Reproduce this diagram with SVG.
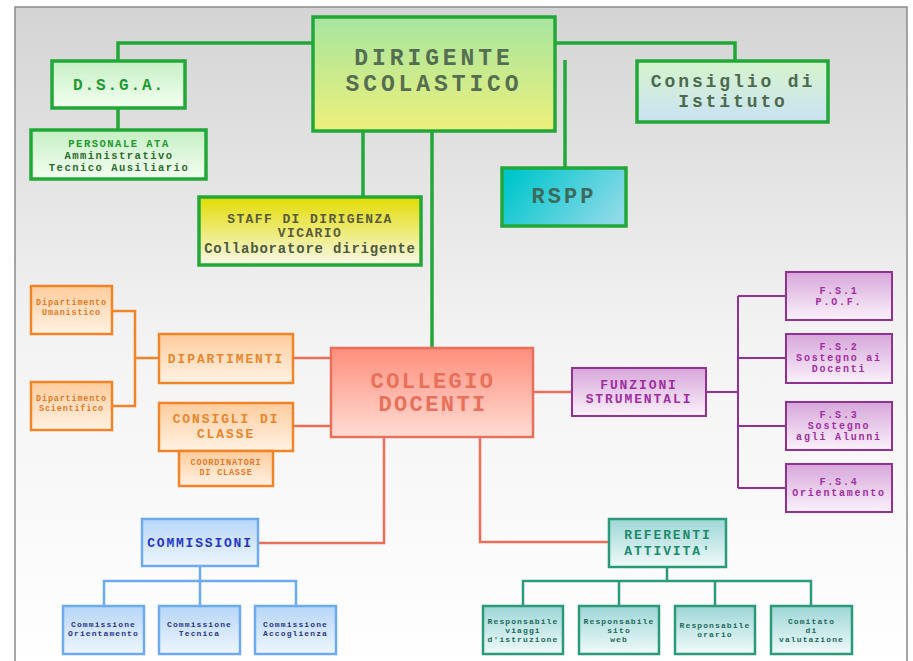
<svg xmlns="http://www.w3.org/2000/svg" width="913" height="661" viewBox="0 0 913 661">
<defs>
<linearGradient id="bg" x1="0" y1="0" x2="0" y2="1"><stop offset="0" stop-color="#d4d4d4"/><stop offset="0.5" stop-color="#f3f3f3"/><stop offset="1" stop-color="#ffffff"/></linearGradient>
<linearGradient id="gDir" x1="0" y1="0" x2="0" y2="1"><stop offset="0" stop-color="#a6e5a0"/><stop offset="1" stop-color="#eef07a"/></linearGradient>
<linearGradient id="gLG" x1="0" y1="0" x2="0" y2="1"><stop offset="0" stop-color="#c6efc4"/><stop offset="1" stop-color="#f4fff2"/></linearGradient>
<linearGradient id="gCons" x1="0" y1="0" x2="0" y2="1"><stop offset="0" stop-color="#d6f4cc"/><stop offset="1" stop-color="#cae2f4"/></linearGradient>
<linearGradient id="gRspp" x1="0" y1="0.3" x2="1" y2="0.7"><stop offset="0" stop-color="#00c6cc"/><stop offset="1" stop-color="#8edae8"/></linearGradient>
<linearGradient id="gStaff" x1="0" y1="0" x2="0" y2="1"><stop offset="0" stop-color="#e2dc00"/><stop offset="1" stop-color="#f8f8ea"/></linearGradient>
<linearGradient id="gOr" x1="0" y1="0" x2="0" y2="1"><stop offset="0" stop-color="#ffcc9c"/><stop offset="1" stop-color="#fff2e4"/></linearGradient>
<linearGradient id="gCol" x1="0" y1="0" x2="0" y2="1"><stop offset="0" stop-color="#ff8e7c"/><stop offset="1" stop-color="#ffdcd4"/></linearGradient>
<linearGradient id="gPur" x1="0" y1="0" x2="0" y2="1"><stop offset="0" stop-color="#d6a6da"/><stop offset="1" stop-color="#fbf2fb"/></linearGradient>
<linearGradient id="gBlu" x1="0" y1="0" x2="0" y2="1"><stop offset="0" stop-color="#b6d6f8"/><stop offset="1" stop-color="#eef6ff"/></linearGradient>
<linearGradient id="gTeal" x1="0" y1="0" x2="0" y2="1"><stop offset="0" stop-color="#9ed6d6"/><stop offset="1" stop-color="#f0fafa"/></linearGradient>
</defs>
<style>
text{font-family:"Liberation Mono","Courier New",monospace;font-weight:bold;text-anchor:middle}
.gb{stroke:#22a838;stroke-width:3.5}
.ob{stroke:#f08428;stroke-width:2.5}
.rb{stroke:#e8705a;stroke-width:2.5}
.pb{stroke:#933193;stroke-width:2}
.bb{stroke:#6eaaf0;stroke-width:2.5}
.tb{stroke:#2a9a7a;stroke-width:2.5}
.c{fill:none}
.cg{stroke:#22a838;stroke-width:3.5}
.co{stroke:#f08428;stroke-width:2.5}
.cr{stroke:#e8705a;stroke-width:2.5}
.cp{stroke:#933193;stroke-width:2}
.cb{stroke:#6eaaf0;stroke-width:2.5}
.ct{stroke:#2a9a7a;stroke-width:2.5}
.sm{font-size:8px;letter-spacing:1.1px}
.dp{font-size:8.5px;letter-spacing:0.8px;fill:#e07a28}
.fs{font-size:10px;letter-spacing:1.8px;fill:#a02ea0}
</style>
<rect x="0" y="0" width="913" height="661" fill="#ffffff"/>
<rect x="15" y="7" width="892" height="664" fill="url(#bg)" stroke="#8a8a8a" stroke-width="1.5"/>

<g id="connectors" class="c">
<path class="cg" d="M313 43 H118 V61 M118 108 V130 M555 43 H735 V61 M565 60 V168 M363 131 V197 M432 131 V348"/>
<path class="co" d="M112 311 H135 V406 H112 M135 358 H159"/>
<path class="cr" d="M293 358 H331 M293 426 H331 M533 392 H572 M384 437 V543 H258 M480 437 V542 H609"/>
<path class="cp" d="M706 392 H738 M738 296 V488 M738 296 H786 M738 358 H786 M738 426 H786 M738 488 H786"/>
<path class="cb" d="M200 566 V581 M104 606 V581 H296 V606 M200 581 V606"/>
<path class="ct" d="M667 567 V581 M523 606 V581 H811 V606 M619 581 V606 M715 581 V606"/>
</g>

<g id="dirigente">
<rect x="313" y="17" width="242" height="114" fill="url(#gDir)" class="gb"/>
<text x="434" y="65" font-size="23" letter-spacing="3.9" fill="#546e52">DIRIGENTE</text>
<text x="434" y="91" font-size="23" letter-spacing="3.9" fill="#546e52">SCOLASTICO</text>
</g>

<g id="dsga">
<rect x="52" y="61" width="133" height="47" fill="url(#gLG)" class="gb"/>
<text x="119" y="90" font-size="16" letter-spacing="1.9" fill="#1f9a30">D.S.G.A.</text>
</g>

<g id="personale-ata">
<rect x="31" y="130" width="175" height="49" fill="url(#gLG)" class="gb"/>
<text x="119" y="147" font-size="10.5" letter-spacing="1.5" fill="#1f9a30">PERSONALE ATA</text>
<text x="119" y="159" font-size="10.5" letter-spacing="1.5" fill="#2a6a2a">Amministrativo</text>
<text x="119" y="171" font-size="10.5" letter-spacing="1.5" fill="#2a6a2a">Tecnico Ausiliario</text>
</g>

<g id="consiglio-istituto">
<rect x="637" y="61" width="191" height="61" fill="url(#gCons)" class="gb"/>
<text x="733" y="87" font-size="18" letter-spacing="2.9" fill="#4e6a4e">Consiglio di</text>
<text x="733" y="107" font-size="18" letter-spacing="2.9" fill="#4e6a4e">Istituto</text>
</g>

<g id="rspp">
<rect x="502" y="168" width="124" height="58" fill="url(#gRspp)" class="gb"/>
<text x="564" y="203" font-size="22" letter-spacing="3" fill="#3c6a5c">RSPP</text>
</g>

<g id="staff">
<rect x="199" y="197" width="222" height="68" fill="url(#gStaff)" class="gb"/>
<text x="310" y="223" font-size="13" letter-spacing="1.4" fill="#5a5a3c">STAFF DI DIRIGENZA</text>
<text x="310" y="237" font-size="13" letter-spacing="1.4" fill="#5a5a3c">VICARIO</text>
<text x="310" y="253" font-size="14" letter-spacing="0.8" font-weight="normal" fill="#4e5a3c">Collaboratore dirigente</text>
</g>

<g id="dip-umanistico">
<rect x="31" y="286" width="81" height="48" fill="url(#gOr)" class="ob"/>
<text x="71.5" y="305" class="dp">Dipartimento</text>
<text x="71.5" y="315" class="dp">Umanistico</text>
</g>

<g id="dip-scientifico">
<rect x="31" y="382" width="81" height="48" fill="url(#gOr)" class="ob"/>
<text x="71.5" y="401" class="dp">Dipartimento</text>
<text x="71.5" y="411" class="dp">Scientifico</text>
</g>

<g id="dipartimenti">
<rect x="159" y="334" width="134" height="49" fill="url(#gOr)" class="ob"/>
<text x="226" y="363" font-size="13" letter-spacing="1.9" fill="#e8862c">DIPARTIMENTI</text>
</g>

<g id="consigli-classe">
<rect x="159" y="403" width="134" height="48" fill="url(#gOr)" class="ob"/>
<text x="226" y="423" font-size="13" letter-spacing="1.9" fill="#e8862c">CONSIGLI DI</text>
<text x="226" y="438" font-size="13" letter-spacing="1.9" fill="#e8862c">CLASSE</text>
</g>

<g id="coordinatori">
<rect x="179" y="451" width="94" height="35" fill="url(#gOr)" class="ob"/>
<text x="226" y="465" class="dp" letter-spacing="1">COORDINATORI</text>
<text x="226" y="475" class="dp" letter-spacing="1">DI CLASSE</text>
</g>

<g id="collegio-docenti">
<rect x="331" y="348" width="202" height="89" fill="url(#gCol)" class="rb"/>
<text x="433" y="388" font-size="22" letter-spacing="2.4" fill="#e8705a">COLLEGIO</text>
<text x="433" y="411" font-size="22" letter-spacing="2.4" fill="#e8705a">DOCENTI</text>
</g>

<g id="funzioni-strumentali">
<rect x="572" y="368" width="134" height="48" fill="url(#gPur)" class="pb"/>
<text x="639" y="389" font-size="13" letter-spacing="1.9" fill="#a02ea0">FUNZIONI</text>
<text x="639" y="403" font-size="13" letter-spacing="1.9" fill="#a02ea0">STRUMENTALI</text>
</g>

<g id="fs1">
<rect x="786" y="272" width="106" height="48" fill="url(#gPur)" class="pb"/>
<text x="839" y="294" class="fs">F.S.1</text>
<text x="839" y="305" class="fs">P.O.F.</text>
</g>

<g id="fs2">
<rect x="786" y="334" width="106" height="49" fill="url(#gPur)" class="pb"/>
<text x="839" y="350" class="fs">F.S.2</text>
<text x="839" y="361" class="fs">Sostegno ai</text>
<text x="839" y="372" class="fs">Docenti</text>
</g>

<g id="fs3">
<rect x="786" y="402" width="106" height="48" fill="url(#gPur)" class="pb"/>
<text x="839" y="418" class="fs">F.S.3</text>
<text x="839" y="429" class="fs">Sostegno</text>
<text x="839" y="440" class="fs">agli Alunni</text>
</g>

<g id="fs4">
<rect x="786" y="464" width="106" height="48" fill="url(#gPur)" class="pb"/>
<text x="839" y="485" class="fs">F.S.4</text>
<text x="839" y="496" class="fs">Orientamento</text>
</g>

<g id="commissioni">
<rect x="142" y="519" width="116" height="47" fill="url(#gBlu)" class="bb"/>
<text x="200" y="547" font-size="13" letter-spacing="1.8" fill="#2636c8">COMMISSIONI</text>
</g>

<g id="comm-orientamento">
<rect x="63" y="606" width="81" height="48" fill="url(#gBlu)" class="bb"/>
<text x="103.5" y="627" class="sm" fill="#2a3488">Commissione</text>
<text x="103.5" y="636" class="sm" fill="#2a3488">Orientamento</text>
</g>

<g id="comm-tecnica">
<rect x="159" y="606" width="81" height="48" fill="url(#gBlu)" class="bb"/>
<text x="199.5" y="627" class="sm" fill="#2a3488">Commissione</text>
<text x="199.5" y="636" class="sm" fill="#2a3488">Tecnica</text>
</g>

<g id="comm-accoglienza">
<rect x="255" y="606" width="81" height="48" fill="url(#gBlu)" class="bb"/>
<text x="295.5" y="627" class="sm" fill="#2a3488">Commissione</text>
<text x="295.5" y="636" class="sm" fill="#2a3488">Accoglienza</text>
</g>

<g id="referenti">
<rect x="609" y="519" width="117" height="48" fill="url(#gTeal)" class="tb"/>
<text x="668" y="539" font-size="13" letter-spacing="1.9" fill="#1c8a6c">REFERENTI</text>
<text x="668" y="555" font-size="13" letter-spacing="1.9" fill="#1c8a6c">ATTIVITA'</text>
</g>

<g id="resp-viaggi">
<rect x="483" y="606" width="80" height="48" fill="url(#gTeal)" class="tb"/>
<text x="523" y="624" class="sm" fill="#1c6a5c">Responsabile</text>
<text x="523" y="633" class="sm" fill="#1c6a5c">viaggi</text>
<text x="523" y="642" class="sm" fill="#1c6a5c">d'istruzione</text>
</g>

<g id="resp-sito">
<rect x="579" y="606" width="80" height="48" fill="url(#gTeal)" class="tb"/>
<text x="619" y="624" class="sm" fill="#1c6a5c">Responsabile</text>
<text x="619" y="633" class="sm" fill="#1c6a5c">sito</text>
<text x="619" y="642" class="sm" fill="#1c6a5c">web</text>
</g>

<g id="resp-orario">
<rect x="675" y="606" width="80" height="48" fill="url(#gTeal)" class="tb"/>
<text x="715" y="628" class="sm" fill="#1c6a5c">Responsabile</text>
<text x="715" y="637" class="sm" fill="#1c6a5c">orario</text>
</g>

<g id="comitato-valutazione">
<rect x="771" y="606" width="81" height="48" fill="url(#gTeal)" class="tb"/>
<text x="811.5" y="624" class="sm" fill="#1c6a5c">Comitato</text>
<text x="811.5" y="633" class="sm" fill="#1c6a5c">di</text>
<text x="811.5" y="642" class="sm" fill="#1c6a5c">valutazione</text>
</g>
</svg>
